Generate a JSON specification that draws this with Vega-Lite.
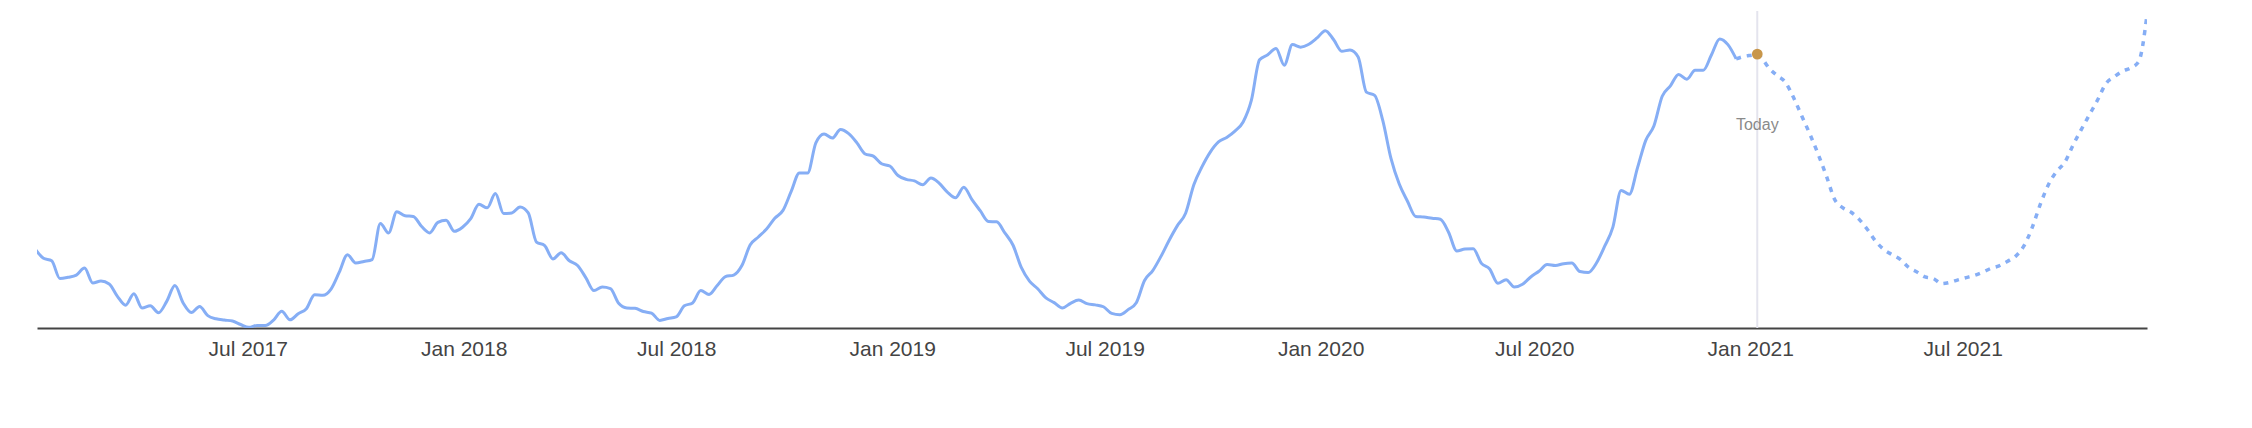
{
  "$schema": "https://vega.github.io/schema/vega-lite/v6.json",
  "width": 2110,
  "height": 317,
  "autosize": {"type": "none"},
  "padding": {"left": 37, "top": 11, "right": 105, "bottom": 100},
  "background": "white",
  "config": {"view": {"stroke": null}, "font": "Liberation Sans"},
  "datasets": {
    "trend": [
      {"date": "2017-01-01", "value": 24.9, "kind": "actual"},
      {"date": "2017-01-08", "value": 22.0, "kind": "actual"},
      {"date": "2017-01-15", "value": 21.2, "kind": "actual"},
      {"date": "2017-01-22", "value": 15.6, "kind": "actual"},
      {"date": "2017-01-29", "value": 16.0, "kind": "actual"},
      {"date": "2017-02-05", "value": 16.7, "kind": "actual"},
      {"date": "2017-02-12", "value": 18.9, "kind": "actual"},
      {"date": "2017-02-19", "value": 14.2, "kind": "actual"},
      {"date": "2017-02-26", "value": 14.8, "kind": "actual"},
      {"date": "2017-03-05", "value": 13.9, "kind": "actual"},
      {"date": "2017-03-12", "value": 10.0, "kind": "actual"},
      {"date": "2017-03-19", "value": 7.2, "kind": "actual"},
      {"date": "2017-03-26", "value": 10.8, "kind": "actual"},
      {"date": "2017-04-02", "value": 6.3, "kind": "actual"},
      {"date": "2017-04-09", "value": 7.0, "kind": "actual"},
      {"date": "2017-04-16", "value": 4.8, "kind": "actual"},
      {"date": "2017-04-23", "value": 8.4, "kind": "actual"},
      {"date": "2017-04-30", "value": 13.4, "kind": "actual"},
      {"date": "2017-05-07", "value": 7.9, "kind": "actual"},
      {"date": "2017-05-14", "value": 4.9, "kind": "actual"},
      {"date": "2017-05-21", "value": 6.8, "kind": "actual"},
      {"date": "2017-05-28", "value": 3.9, "kind": "actual"},
      {"date": "2017-06-04", "value": 2.9, "kind": "actual"},
      {"date": "2017-06-11", "value": 2.5, "kind": "actual"},
      {"date": "2017-06-18", "value": 2.2, "kind": "actual"},
      {"date": "2017-06-25", "value": 1.1, "kind": "actual"},
      {"date": "2017-07-02", "value": 0.2, "kind": "actual"},
      {"date": "2017-07-09", "value": 0.8, "kind": "actual"},
      {"date": "2017-07-16", "value": 0.8, "kind": "actual"},
      {"date": "2017-07-23", "value": 2.5, "kind": "actual"},
      {"date": "2017-07-30", "value": 5.3, "kind": "actual"},
      {"date": "2017-08-06", "value": 2.6, "kind": "actual"},
      {"date": "2017-08-13", "value": 4.5, "kind": "actual"},
      {"date": "2017-08-20", "value": 6.1, "kind": "actual"},
      {"date": "2017-08-27", "value": 10.5, "kind": "actual"},
      {"date": "2017-09-03", "value": 10.3, "kind": "actual"},
      {"date": "2017-09-10", "value": 12.3, "kind": "actual"},
      {"date": "2017-09-17", "value": 17.6, "kind": "actual"},
      {"date": "2017-09-24", "value": 23.1, "kind": "actual"},
      {"date": "2017-10-01", "value": 20.5, "kind": "actual"},
      {"date": "2017-10-08", "value": 21.0, "kind": "actual"},
      {"date": "2017-10-15", "value": 21.6, "kind": "actual"},
      {"date": "2017-10-22", "value": 33.0, "kind": "actual"},
      {"date": "2017-10-29", "value": 30.0, "kind": "actual"},
      {"date": "2017-11-05", "value": 36.7, "kind": "actual"},
      {"date": "2017-11-12", "value": 35.4, "kind": "actual"},
      {"date": "2017-11-19", "value": 35.2, "kind": "actual"},
      {"date": "2017-11-26", "value": 32.1, "kind": "actual"},
      {"date": "2017-12-03", "value": 30.0, "kind": "actual"},
      {"date": "2017-12-10", "value": 33.3, "kind": "actual"},
      {"date": "2017-12-17", "value": 34.0, "kind": "actual"},
      {"date": "2017-12-24", "value": 30.5, "kind": "actual"},
      {"date": "2017-12-31", "value": 31.8, "kind": "actual"},
      {"date": "2018-01-07", "value": 34.5, "kind": "actual"},
      {"date": "2018-01-14", "value": 39.0, "kind": "actual"},
      {"date": "2018-01-21", "value": 37.9, "kind": "actual"},
      {"date": "2018-01-28", "value": 42.4, "kind": "actual"},
      {"date": "2018-02-04", "value": 36.1, "kind": "actual"},
      {"date": "2018-02-11", "value": 36.3, "kind": "actual"},
      {"date": "2018-02-18", "value": 38.2, "kind": "actual"},
      {"date": "2018-02-25", "value": 36.3, "kind": "actual"},
      {"date": "2018-03-04", "value": 27.1, "kind": "actual"},
      {"date": "2018-03-11", "value": 26.0, "kind": "actual"},
      {"date": "2018-03-18", "value": 21.8, "kind": "actual"},
      {"date": "2018-03-25", "value": 23.7, "kind": "actual"},
      {"date": "2018-04-01", "value": 21.2, "kind": "actual"},
      {"date": "2018-04-08", "value": 19.7, "kind": "actual"},
      {"date": "2018-04-15", "value": 15.9, "kind": "actual"},
      {"date": "2018-04-22", "value": 11.8, "kind": "actual"},
      {"date": "2018-04-29", "value": 12.9, "kind": "actual"},
      {"date": "2018-05-06", "value": 12.4, "kind": "actual"},
      {"date": "2018-05-13", "value": 7.8, "kind": "actual"},
      {"date": "2018-05-20", "value": 6.3, "kind": "actual"},
      {"date": "2018-05-27", "value": 6.2, "kind": "actual"},
      {"date": "2018-06-03", "value": 5.2, "kind": "actual"},
      {"date": "2018-06-10", "value": 4.7, "kind": "actual"},
      {"date": "2018-06-17", "value": 2.4, "kind": "actual"},
      {"date": "2018-06-24", "value": 3.0, "kind": "actual"},
      {"date": "2018-07-01", "value": 3.5, "kind": "actual"},
      {"date": "2018-07-08", "value": 7.0, "kind": "actual"},
      {"date": "2018-07-15", "value": 7.9, "kind": "actual"},
      {"date": "2018-07-22", "value": 11.8, "kind": "actual"},
      {"date": "2018-07-29", "value": 10.6, "kind": "actual"},
      {"date": "2018-08-05", "value": 13.4, "kind": "actual"},
      {"date": "2018-08-12", "value": 16.2, "kind": "actual"},
      {"date": "2018-08-19", "value": 16.7, "kind": "actual"},
      {"date": "2018-08-26", "value": 19.7, "kind": "actual"},
      {"date": "2018-09-02", "value": 26.2, "kind": "actual"},
      {"date": "2018-09-09", "value": 28.7, "kind": "actual"},
      {"date": "2018-09-16", "value": 31.2, "kind": "actual"},
      {"date": "2018-09-23", "value": 34.6, "kind": "actual"},
      {"date": "2018-09-30", "value": 37.1, "kind": "actual"},
      {"date": "2018-10-07", "value": 43.1, "kind": "actual"},
      {"date": "2018-10-14", "value": 48.9, "kind": "actual"},
      {"date": "2018-10-21", "value": 48.9, "kind": "actual"},
      {"date": "2018-10-28", "value": 58.4, "kind": "actual"},
      {"date": "2018-11-04", "value": 61.2, "kind": "actual"},
      {"date": "2018-11-11", "value": 59.9, "kind": "actual"},
      {"date": "2018-11-18", "value": 62.6, "kind": "actual"},
      {"date": "2018-11-25", "value": 61.3, "kind": "actual"},
      {"date": "2018-12-02", "value": 58.4, "kind": "actual"},
      {"date": "2018-12-09", "value": 54.9, "kind": "actual"},
      {"date": "2018-12-16", "value": 54.2, "kind": "actual"},
      {"date": "2018-12-23", "value": 51.8, "kind": "actual"},
      {"date": "2018-12-30", "value": 51.1, "kind": "actual"},
      {"date": "2019-01-06", "value": 48.1, "kind": "actual"},
      {"date": "2019-01-13", "value": 46.9, "kind": "actual"},
      {"date": "2019-01-20", "value": 46.4, "kind": "actual"},
      {"date": "2019-01-27", "value": 45.2, "kind": "actual"},
      {"date": "2019-02-03", "value": 47.3, "kind": "actual"},
      {"date": "2019-02-10", "value": 45.7, "kind": "actual"},
      {"date": "2019-02-17", "value": 42.9, "kind": "actual"},
      {"date": "2019-02-24", "value": 41.1, "kind": "actual"},
      {"date": "2019-03-03", "value": 44.4, "kind": "actual"},
      {"date": "2019-03-10", "value": 40.5, "kind": "actual"},
      {"date": "2019-03-17", "value": 37.0, "kind": "actual"},
      {"date": "2019-03-24", "value": 33.6, "kind": "actual"},
      {"date": "2019-03-31", "value": 33.5, "kind": "actual"},
      {"date": "2019-04-07", "value": 30.0, "kind": "actual"},
      {"date": "2019-04-14", "value": 26.1, "kind": "actual"},
      {"date": "2019-04-21", "value": 19.1, "kind": "actual"},
      {"date": "2019-04-28", "value": 14.8, "kind": "actual"},
      {"date": "2019-05-05", "value": 12.4, "kind": "actual"},
      {"date": "2019-05-12", "value": 9.5, "kind": "actual"},
      {"date": "2019-05-19", "value": 8.0, "kind": "actual"},
      {"date": "2019-05-26", "value": 6.3, "kind": "actual"},
      {"date": "2019-06-02", "value": 7.8, "kind": "actual"},
      {"date": "2019-06-09", "value": 8.8, "kind": "actual"},
      {"date": "2019-06-16", "value": 7.7, "kind": "actual"},
      {"date": "2019-06-23", "value": 7.3, "kind": "actual"},
      {"date": "2019-06-30", "value": 6.7, "kind": "actual"},
      {"date": "2019-07-07", "value": 4.6, "kind": "actual"},
      {"date": "2019-07-14", "value": 4.2, "kind": "actual"},
      {"date": "2019-07-21", "value": 5.8, "kind": "actual"},
      {"date": "2019-07-28", "value": 8.0, "kind": "actual"},
      {"date": "2019-08-04", "value": 15.0, "kind": "actual"},
      {"date": "2019-08-11", "value": 18.1, "kind": "actual"},
      {"date": "2019-08-18", "value": 22.6, "kind": "actual"},
      {"date": "2019-08-25", "value": 27.7, "kind": "actual"},
      {"date": "2019-09-01", "value": 32.3, "kind": "actual"},
      {"date": "2019-09-08", "value": 36.2, "kind": "actual"},
      {"date": "2019-09-15", "value": 45.2, "kind": "actual"},
      {"date": "2019-09-22", "value": 50.9, "kind": "actual"},
      {"date": "2019-09-29", "value": 55.5, "kind": "actual"},
      {"date": "2019-10-06", "value": 58.7, "kind": "actual"},
      {"date": "2019-10-13", "value": 60.1, "kind": "actual"},
      {"date": "2019-10-20", "value": 62.1, "kind": "actual"},
      {"date": "2019-10-27", "value": 65.0, "kind": "actual"},
      {"date": "2019-11-03", "value": 71.8, "kind": "actual"},
      {"date": "2019-11-10", "value": 84.6, "kind": "actual"},
      {"date": "2019-11-17", "value": 86.2, "kind": "actual"},
      {"date": "2019-11-24", "value": 88.2, "kind": "actual"},
      {"date": "2019-12-01", "value": 82.9, "kind": "actual"},
      {"date": "2019-12-08", "value": 89.4, "kind": "actual"},
      {"date": "2019-12-15", "value": 88.6, "kind": "actual"},
      {"date": "2019-12-22", "value": 89.5, "kind": "actual"},
      {"date": "2019-12-29", "value": 91.5, "kind": "actual"},
      {"date": "2020-01-05", "value": 93.8, "kind": "actual"},
      {"date": "2020-01-12", "value": 91.0, "kind": "actual"},
      {"date": "2020-01-19", "value": 87.3, "kind": "actual"},
      {"date": "2020-01-26", "value": 87.7, "kind": "actual"},
      {"date": "2020-02-02", "value": 85.5, "kind": "actual"},
      {"date": "2020-02-09", "value": 74.4, "kind": "actual"},
      {"date": "2020-02-16", "value": 73.4, "kind": "actual"},
      {"date": "2020-02-23", "value": 65.4, "kind": "actual"},
      {"date": "2020-03-01", "value": 53.4, "kind": "actual"},
      {"date": "2020-03-08", "value": 45.4, "kind": "actual"},
      {"date": "2020-03-15", "value": 40.0, "kind": "actual"},
      {"date": "2020-03-22", "value": 35.2, "kind": "actual"},
      {"date": "2020-03-29", "value": 35.0, "kind": "actual"},
      {"date": "2020-04-05", "value": 34.6, "kind": "actual"},
      {"date": "2020-04-12", "value": 34.3, "kind": "actual"},
      {"date": "2020-04-19", "value": 30.2, "kind": "actual"},
      {"date": "2020-04-26", "value": 24.3, "kind": "actual"},
      {"date": "2020-05-03", "value": 24.9, "kind": "actual"},
      {"date": "2020-05-10", "value": 25.0, "kind": "actual"},
      {"date": "2020-05-17", "value": 20.4, "kind": "actual"},
      {"date": "2020-05-24", "value": 18.6, "kind": "actual"},
      {"date": "2020-05-31", "value": 14.1, "kind": "actual"},
      {"date": "2020-06-07", "value": 15.2, "kind": "actual"},
      {"date": "2020-06-14", "value": 12.9, "kind": "actual"},
      {"date": "2020-06-21", "value": 13.8, "kind": "actual"},
      {"date": "2020-06-28", "value": 16.1, "kind": "actual"},
      {"date": "2020-07-05", "value": 17.9, "kind": "actual"},
      {"date": "2020-07-12", "value": 20.0, "kind": "actual"},
      {"date": "2020-07-19", "value": 19.7, "kind": "actual"},
      {"date": "2020-07-26", "value": 20.3, "kind": "actual"},
      {"date": "2020-08-02", "value": 20.5, "kind": "actual"},
      {"date": "2020-08-09", "value": 17.8, "kind": "actual"},
      {"date": "2020-08-16", "value": 17.5, "kind": "actual"},
      {"date": "2020-08-23", "value": 20.5, "kind": "actual"},
      {"date": "2020-08-30", "value": 25.8, "kind": "actual"},
      {"date": "2020-09-06", "value": 31.8, "kind": "actual"},
      {"date": "2020-09-13", "value": 43.4, "kind": "actual"},
      {"date": "2020-09-20", "value": 42.2, "kind": "actual"},
      {"date": "2020-09-27", "value": 50.6, "kind": "actual"},
      {"date": "2020-10-04", "value": 59.2, "kind": "actual"},
      {"date": "2020-10-11", "value": 63.8, "kind": "actual"},
      {"date": "2020-10-18", "value": 73.1, "kind": "actual"},
      {"date": "2020-10-25", "value": 76.4, "kind": "actual"},
      {"date": "2020-11-01", "value": 80.0, "kind": "actual"},
      {"date": "2020-11-08", "value": 78.5, "kind": "actual"},
      {"date": "2020-11-15", "value": 81.3, "kind": "actual"},
      {"date": "2020-11-22", "value": 81.3, "kind": "actual"},
      {"date": "2020-11-29", "value": 86.2, "kind": "actual"},
      {"date": "2020-12-06", "value": 91.2, "kind": "actual"},
      {"date": "2020-12-13", "value": 89.4, "kind": "actual"},
      {"date": "2020-12-20", "value": 84.9, "kind": "actual"},
      {"date": "2020-12-20", "value": 84.9, "kind": "forecast"},
      {"date": "2020-12-27", "value": 85.7, "kind": "forecast"},
      {"date": "2021-01-03", "value": 86.1, "kind": "forecast"},
      {"date": "2021-01-07", "value": 86.4, "kind": "forecast"},
      {"date": "2021-01-10", "value": 85.5, "kind": "forecast"},
      {"date": "2021-01-17", "value": 82.0, "kind": "forecast"},
      {"date": "2021-01-24", "value": 79.6, "kind": "forecast"},
      {"date": "2021-01-31", "value": 77.5, "kind": "forecast"},
      {"date": "2021-02-07", "value": 72.6, "kind": "forecast"},
      {"date": "2021-02-14", "value": 66.8, "kind": "forecast"},
      {"date": "2021-02-21", "value": 61.0, "kind": "forecast"},
      {"date": "2021-02-28", "value": 54.7, "kind": "forecast"},
      {"date": "2021-03-07", "value": 47.8, "kind": "forecast"},
      {"date": "2021-03-14", "value": 40.5, "kind": "forecast"},
      {"date": "2021-03-21", "value": 37.9, "kind": "forecast"},
      {"date": "2021-03-28", "value": 36.5, "kind": "forecast"},
      {"date": "2021-04-04", "value": 34.2, "kind": "forecast"},
      {"date": "2021-04-11", "value": 31.0, "kind": "forecast"},
      {"date": "2021-04-18", "value": 27.3, "kind": "forecast"},
      {"date": "2021-04-25", "value": 24.7, "kind": "forecast"},
      {"date": "2021-05-02", "value": 23.1, "kind": "forecast"},
      {"date": "2021-05-09", "value": 21.6, "kind": "forecast"},
      {"date": "2021-05-16", "value": 19.1, "kind": "forecast"},
      {"date": "2021-05-23", "value": 17.7, "kind": "forecast"},
      {"date": "2021-05-30", "value": 16.1, "kind": "forecast"},
      {"date": "2021-06-06", "value": 15.6, "kind": "forecast"},
      {"date": "2021-06-13", "value": 14.0, "kind": "forecast"},
      {"date": "2021-06-20", "value": 14.4, "kind": "forecast"},
      {"date": "2021-06-27", "value": 15.2, "kind": "forecast"},
      {"date": "2021-07-04", "value": 15.9, "kind": "forecast"},
      {"date": "2021-07-11", "value": 16.6, "kind": "forecast"},
      {"date": "2021-07-18", "value": 17.6, "kind": "forecast"},
      {"date": "2021-07-25", "value": 18.8, "kind": "forecast"},
      {"date": "2021-08-01", "value": 19.6, "kind": "forecast"},
      {"date": "2021-08-08", "value": 21.0, "kind": "forecast"},
      {"date": "2021-08-15", "value": 22.6, "kind": "forecast"},
      {"date": "2021-08-22", "value": 25.8, "kind": "forecast"},
      {"date": "2021-08-29", "value": 31.5, "kind": "forecast"},
      {"date": "2021-09-05", "value": 38.9, "kind": "forecast"},
      {"date": "2021-09-12", "value": 45.2, "kind": "forecast"},
      {"date": "2021-09-19", "value": 49.4, "kind": "forecast"},
      {"date": "2021-09-26", "value": 52.3, "kind": "forecast"},
      {"date": "2021-10-03", "value": 57.7, "kind": "forecast"},
      {"date": "2021-10-10", "value": 62.6, "kind": "forecast"},
      {"date": "2021-10-17", "value": 67.3, "kind": "forecast"},
      {"date": "2021-10-24", "value": 72.0, "kind": "forecast"},
      {"date": "2021-10-31", "value": 77.1, "kind": "forecast"},
      {"date": "2021-11-07", "value": 79.2, "kind": "forecast"},
      {"date": "2021-11-14", "value": 81.0, "kind": "forecast"},
      {"date": "2021-11-21", "value": 82.0, "kind": "forecast"},
      {"date": "2021-11-28", "value": 84.1, "kind": "forecast"},
      {"date": "2021-12-05", "value": 98.8, "kind": "forecast"}
    ],
    "today": [
      {"date": "2021-01-07", "value": 86.4, "label": "Today"}
    ]
  },
  "encoding": {
    "x": {
      "field": "date",
      "type": "temporal",
      "scale": {
        "type": "utc",
        "domain": [
          {"year": 2017, "month": 1, "date": 2, "hours": 12, "utc": true},
          {"year": 2021, "month": 12, "date": 5, "utc": true}
        ]
      },
      "axis": {
        "title": null,
        "format": "%b %Y",
        "tickCount": {"interval": "month", "step": 6},
        "ticks": false,
        "grid": false,
        "domainColor": "#444444",
        "domainWidth": 2,
        "labelFont": "Liberation Sans",
        "labelFontSize": 21,
        "labelColor": "#444444",
        "labelPadding": 10,
        "labelFlush": false,
        "labelOverlap": false
      }
    }
  },
  "layer": [
    {
      "data": {"name": "today"},
      "mark": {"type": "rule", "color": "#e4e4ee", "strokeWidth": 2}
    },
    {
      "data": {"name": "trend"},
      "transform": [{"filter": "datum.kind == 'actual'"}],
      "mark": {"type": "line", "color": "#86aef5", "strokeWidth": 3, "interpolate": "monotone", "clip": true},
      "encoding": {
        "y": {"field": "value", "type": "quantitative", "scale": {"domain": [0, 100]}, "axis": null}
      }
    },
    {
      "data": {"name": "trend"},
      "transform": [{"filter": "datum.kind == 'forecast'"}],
      "mark": {"type": "line", "color": "#86aef5", "strokeWidth": 3.5, "strokeDash": [5, 6], "interpolate": "monotone", "clip": true},
      "encoding": {
        "y": {"field": "value", "type": "quantitative", "scale": {"domain": [0, 100]}, "axis": null}
      }
    },
    {
      "data": {"name": "today"},
      "mark": {"type": "point", "filled": true, "color": "#c8964a", "size": 115, "opacity": 1},
      "encoding": {
        "y": {"field": "value", "type": "quantitative", "scale": {"domain": [0, 100]}, "axis": null}
      }
    },
    {
      "data": {"name": "today"},
      "mark": {"type": "text", "dy": 71, "baseline": "middle", "align": "center", "fontSize": 16, "color": "#8a8a8a", "font": "Liberation Sans"},
      "encoding": {
        "y": {"field": "value", "type": "quantitative", "scale": {"domain": [0, 100]}, "axis": null},
        "text": {"field": "label"}
      }
    }
  ]
}
